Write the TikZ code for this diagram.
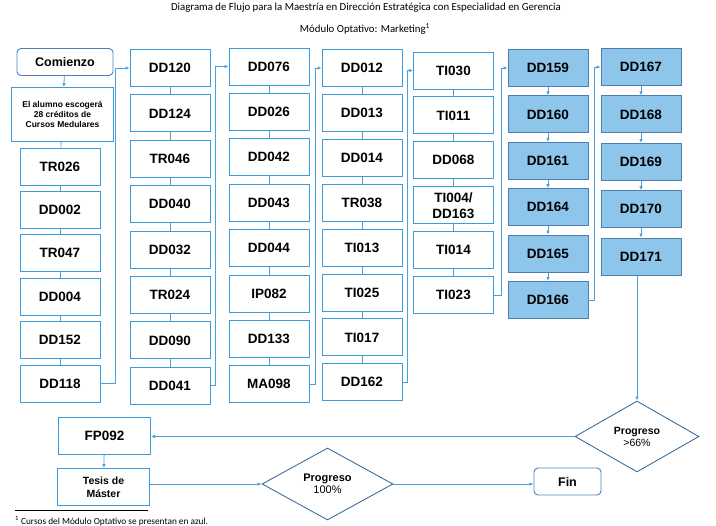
\documentclass[tikz,border=0pt]{standalone}
\usepackage{fontspec}
\setmainfont{Liberation Sans}
\newfontfamily\calibri{Carlito}
\usetikzlibrary{positioning, shapes.geometric, arrows.meta}
\definecolor{boxline}{HTML}{3C9BDB}
\definecolor{linkline}{HTML}{4BA0DC}
\definecolor{optfill}{HTML}{8EC5EA}
\definecolor{optline}{HTML}{4A7FB0}
\definecolor{decline}{HTML}{3E6F9E}
\definecolor{termline}{HTML}{4A82BE}

\begin{document}
\begin{tikzpicture}[x=1pt, y=-1pt,
    course/.style={draw=boxline, line width=0.9pt, minimum width=80pt, minimum height=37pt,
        inner sep=1pt, align=center, font=\fontsize{13.5}{16}\selectfont\bfseries},
    optcourse/.style={course, draw=optline, fill=optfill},
    term/.style={draw=termline, line width=0.9pt, rounded corners=4pt, inner sep=1pt,
        font=\fontsize{12.5}{15}\selectfont\bfseries},
    decision/.style={diamond, draw=decline, line width=0.9pt, inner sep=0pt, shape aspect=1.75,
        align=center},
    link/.style={draw=linkline, line width=0.8pt},
    tip/.style={-{Latex[length=4pt,width=3.5pt]}}]
    \useasboundingbox (0,0) rectangle (716,526);

    % titulo
    \node[font=\calibri\fontsize{10.8}{13}\selectfont] (title) at (366,8)
        {Diagrama de Flujo para la Maestría en Dirección Estratégica con Especialidad en Gerencia};
    \node[font=\calibri\fontsize{10.8}{13}\selectfont] (subtitle) at (365,29)
        {Módulo Optativo: Marketing\textsuperscript{1}};

    % cursos medulares
    \node[term, minimum width=96pt, minimum height=27pt] (start) at (65,62) {Comienzo};
    \node[course, minimum width=102pt, minimum height=54pt,
        font=\fontsize{8.5}{10.3}\selectfont\bfseries] (alumno) at (62.5,114.5)
        {El alumno escogerá\\28 créditos de\\Cursos Medulares};
    \node[course] (tr026) at (60,166.5) {TR026};
    \node[course, below=5.5pt of tr026] (dd002) {DD002};
    \node[course, below=5.5pt of dd002] (tr047) {TR047};
    \node[course, below=5.5pt of tr047] (dd004) {DD004};
    \node[course, below=5.5pt of dd004] (dd152) {DD152};
    \node[course, below=5.5pt of dd152] (dd118) {DD118};

    \node[course] (dd120) at (170,68) {DD120};
    \node[course, below=7.5pt of dd120] (dd124) {DD124};
    \node[course, below=7.5pt of dd124] (tr046) {TR046};
    \node[course, below=7.5pt of tr046] (dd040) {DD040};
    \node[course, below=7.5pt of dd040] (dd032) {DD032};
    \node[course, below=7.5pt of dd032] (tr024) {TR024};
    \node[course, below=7.5pt of tr024] (dd090) {DD090};
    \node[course, below=7.5pt of dd090] (dd041) {DD041};

    \node[course] (dd076) at (269,66.5) {DD076};
    \node[course, below=7.5pt of dd076] (dd026) {DD026};
    \node[course, below=7.5pt of dd026] (dd042) {DD042};
    \node[course, below=7.5pt of dd042] (dd043) {DD043};
    \node[course, below=7.5pt of dd043] (dd044) {DD044};
    \node[course, below=7.5pt of dd044] (ip082) {IP082};
    \node[course, below=7.5pt of ip082] (dd133) {DD133};
    \node[course, below=7.5pt of dd133] (ma098) {MA098};

    \node[course] (dd012) at (362,68) {DD012};
    \node[course, below=7pt of dd012] (dd013) {DD013};
    \node[course, below=7pt of dd013] (dd014) {DD014};
    \node[course, below=7pt of dd014] (tr038) {TR038};
    \node[course, below=7pt of tr038] (ti013) {TI013};
    \node[course, below=7pt of ti013] (ti025) {TI025};
    \node[course, below=7pt of ti025] (ti017) {TI017};
    \node[course, below=7pt of ti017] (dd162) {DD162};

    \node[course] (ti030) at (453.5,70.5) {TI030};
    \node[course, below=7pt of ti030] (ti011) {TI011};
    \node[course, below=7pt of ti011] (dd068) {DD068};
    \node[course, below=7pt of dd068] (ti004) {TI004/\\DD163};
    \node[course, below=7pt of ti004] (ti014) {TI014};
    \node[course, below=7pt of ti014] (ti023) {TI023};

    % modulo optativo
    \node[optcourse] (dd159) at (548,68) {DD159};
    \node[optcourse, below=8.5pt of dd159] (dd160) {DD160};
    \node[optcourse, below=8.5pt of dd160] (dd161) {DD161};
    \node[optcourse, below=8.5pt of dd161] (dd164) {DD164};
    \node[optcourse, below=8.5pt of dd164] (dd165) {DD165};
    \node[optcourse, below=8.5pt of dd165] (dd166) {DD166};

    \node[optcourse] (dd167) at (641,67) {DD167};
    \node[optcourse, below=9.5pt of dd167] (dd168) {DD168};
    \node[optcourse, below=9.5pt of dd168] (dd169) {DD169};
    \node[optcourse, below=9.5pt of dd169] (dd170) {DD170};
    \node[optcourse, below=9.5pt of dd170] (dd171) {DD171};

    % final
    \node[decision, minimum width=124pt, minimum height=71pt] (prog66) at (637,436.5)
        {\fontsize{10.5}{13}\selectfont\bfseries Progreso\\\fontsize{10.5}{13}\selectfont >66\%};
    \node[course, minimum width=92pt, font=\fontsize{13.5}{16}\selectfont\bfseries] (fp092) at (104.5,436) {FP092};
    \node[course, minimum width=92pt, font=\fontsize{10.5}{12.5}\selectfont\bfseries] (tesis) at (103.5,487)
        {Tesis de\\Máster};
    \node[decision, minimum width=131pt, minimum height=72pt] (prog100) at (327.5,484)
        {\fontsize{11}{14}\selectfont\bfseries Progreso\\\fontsize{11}{14}\selectfont 100\%};
    \node[term, minimum width=67pt, minimum height=27pt] (fin) at (567.5,481.5) {Fin};

    % conexiones
    \draw[link, tip] (start) -- (alumno);
    \foreach \a/\b in {alumno/tr026, tr026/dd002, dd002/tr047, tr047/dd004, dd004/dd152, dd152/dd118,
        dd120/dd124, dd124/tr046, tr046/dd040, dd040/dd032, dd032/tr024, tr024/dd090, dd090/dd041,
        dd076/dd026, dd026/dd042, dd042/dd043, dd043/dd044, dd044/ip082, ip082/dd133, dd133/ma098,
        dd012/dd013, dd013/dd014, dd014/tr038, tr038/ti013, ti013/ti025, ti025/ti017, ti017/dd162,
        ti030/ti011, ti011/dd068, dd068/ti004, ti004/ti014, ti014/ti023}
        \draw[link] (\a) -- (\b);
    \foreach \a/\b in {dd159/dd160, dd160/dd161, dd161/dd164, dd164/dd165, dd165/dd166,
        dd167/dd168, dd168/dd169, dd169/dd170, dd170/dd171}
        \draw[link, tip] (\a) -- (\b);

    \draw[link, tip] (dd118.east) -- ++(15,0) |- (dd120.west);
    \draw[link, tip] (dd041.east) -- ++(4.5,0) |- (dd076.west);
    \draw[link, tip] (ma098.east) -- ++(5.5,0) |- (dd012.west);
    \draw[link, tip] (dd162.east) -- ++(4.5,0) |- (ti030.west);
    \draw[link, tip] (ti023.east) -- ++(7,0) |- (dd159.west);
    \draw[link, tip] (dd166.east) -- ++(5.5,0) |- (dd167.west);

    \draw[link, tip] (prog66.north |- dd171.south) -- (prog66.north);
    \draw[link, tip] (prog66.west) -- (prog66.west -| fp092.east);
    \draw[link, tip] (fp092) -- (tesis);
    \draw[link, tip] (tesis.east |- prog100.west) -- (prog100.west);
    \draw[link, tip] (prog100.east) -- (prog100.east -| fin.west);

    % nota
    \draw[line width=0.5pt] (15,510) -- (148,510);
    \node[anchor=west, inner sep=0pt, font=\calibri\fontsize{9.3}{11}\selectfont] (nota) at (15,521)
        {\textsuperscript{1} Cursos del Módulo Optativo se presentan en azul.};
\end{tikzpicture}
\end{document}
